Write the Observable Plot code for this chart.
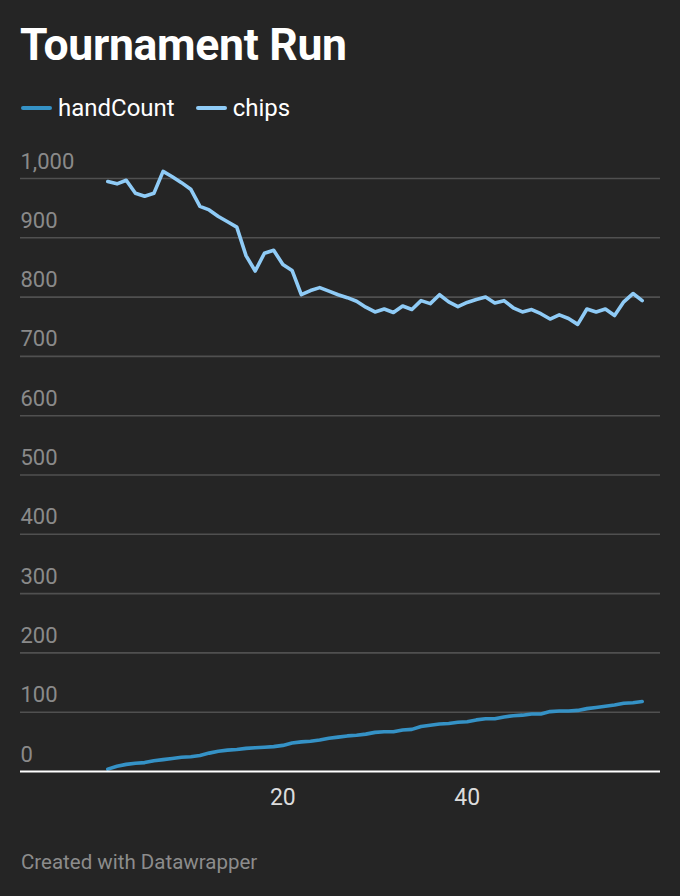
<!DOCTYPE html>
<html>
<head>
<meta charset="utf-8">
<script src="https://cdn.jsdelivr.net/npm/d3@7"></script>
<script src="https://cdn.jsdelivr.net/npm/@observablehq/plot@0.6"></script>
<style>
  html, body { margin: 0; padding: 0; background: #252525; }
  body { width: 680px; height: 896px; position: relative; overflow: hidden; font-family: Roboto, "Noto Sans", sans-serif; }
  .title { position: absolute; left: 20px; top: 19px; font-size: 44.5px; font-weight: 700; color: #ffffff; line-height: 52px; letter-spacing: -0.3px; }
  .legend { position: absolute; left: 21px; top: 93px; font-size: 24px; color: #ffffff; display: flex; align-items: center; line-height: 30px; }
  .legend .item { display: flex; align-items: center; margin-right: 21px; }
  .legend .sw { width: 31px; height: 4px; border-radius: 2px; margin-right: 6px; }
  .footer { position: absolute; left: 21px; top: 849px; font-size: 20.5px; color: #8c8c8c; line-height: 26px; }
  #chart { position: absolute; left: 0; top: 140px; }
</style>
</head>
<body>
<div class="title">Tournament Run</div>
<div class="legend" id="legend"></div>
<div id="chart"></div>
<div class="footer">Created with Datawrapper</div>
<script>
const hands = d3.range(1, 60);
const handCount = [4, 9, 12, 14, 15, 18, 20, 22, 24, 25,
  27, 31, 34, 36, 37, 39, 40, 41, 42, 44,
  48, 50, 51, 53, 56, 58, 60, 61, 63, 66,
  67, 67, 70, 71, 76, 78, 80, 81, 83, 84,
  87, 89, 89, 92, 94, 95, 97, 97, 101, 102,
  102, 103, 106, 108, 110, 112, 115, 116, 118];
const chips = [995, 991, 997, 975, 970, 975, 1012, 1003, 993, 982,
  953, 947, 936, 927, 918, 870, 844, 874, 879, 855,
  845, 804, 811, 816, 810, 804, 799, 793, 783, 775,
  780, 774, 785, 779, 794, 789, 804, 792, 784, 791,
  796, 800, 790, 794, 782, 775, 779, 772, 763, 770,
  764, 754, 780, 775, 780, 769, 792, 806, 794];
const seriesNames = ["handCount", "chips"];
const seriesColors = ["#3592c6", "#8fcbf6"];
const yTicks = [0, 100, 200, 300, 400, 500, 600, 700, 800, 900, 1000];
const xTicks = [20, 40];

const rows = [];
hands.forEach((h, i) => {
  rows.push({hand: h, value: handCount[i], series: seriesNames[0]});
  rows.push({hand: h, value: chips[i], series: seriesNames[1]});
});

const legend = document.getElementById("legend");
seriesNames.forEach((n, i) => {
  const it = document.createElement("div");
  it.className = "item";
  it.innerHTML = `<span class="sw" style="background:${seriesColors[i]}"></span><span>${n}</span>`;
  legend.appendChild(it);
});

const chart = Plot.plot({
  width: 680,
  height: 680,
  marginLeft: 20,
  marginRight: 20,
  marginTop: 38,
  marginBottom: 49,
  style: {background: "transparent", fontFamily: "Roboto, 'Noto Sans', sans-serif", overflow: "visible"},
  x: {domain: [1, 59], range: [107.3, 641.7]},
  y: {domain: [0, 1000]},
  color: {domain: seriesNames, range: seriesColors},
  marks: [
    Plot.ruleY(yTicks.filter(d => d > 0), {stroke: "#505050", strokeWidth: 1.6}),
    Plot.axisY(yTicks, {
      tickSize: 0, tickPadding: 0, textAnchor: "start", lineAnchor: "bottom", dy: -10,
      fontSize: 22, fill: "#8a8a8a", tickFormat: d3.format(","), label: null
    }),
    Plot.axisX(xTicks, {
      tickSize: 0, tickPadding: 17, fontSize: 23, fill: "#dcdcdc", label: null
    }),
    Plot.line(rows, {x: "hand", y: "value", z: "series", stroke: "series", strokeWidth: 3.6, strokeLinejoin: "round", strokeLinecap: "round"}),
    Plot.ruleY([0], {stroke: "#ffffff", strokeWidth: 2.2})
  ]
});
document.getElementById("chart").appendChild(chart);
</script>
</body>
</html>
